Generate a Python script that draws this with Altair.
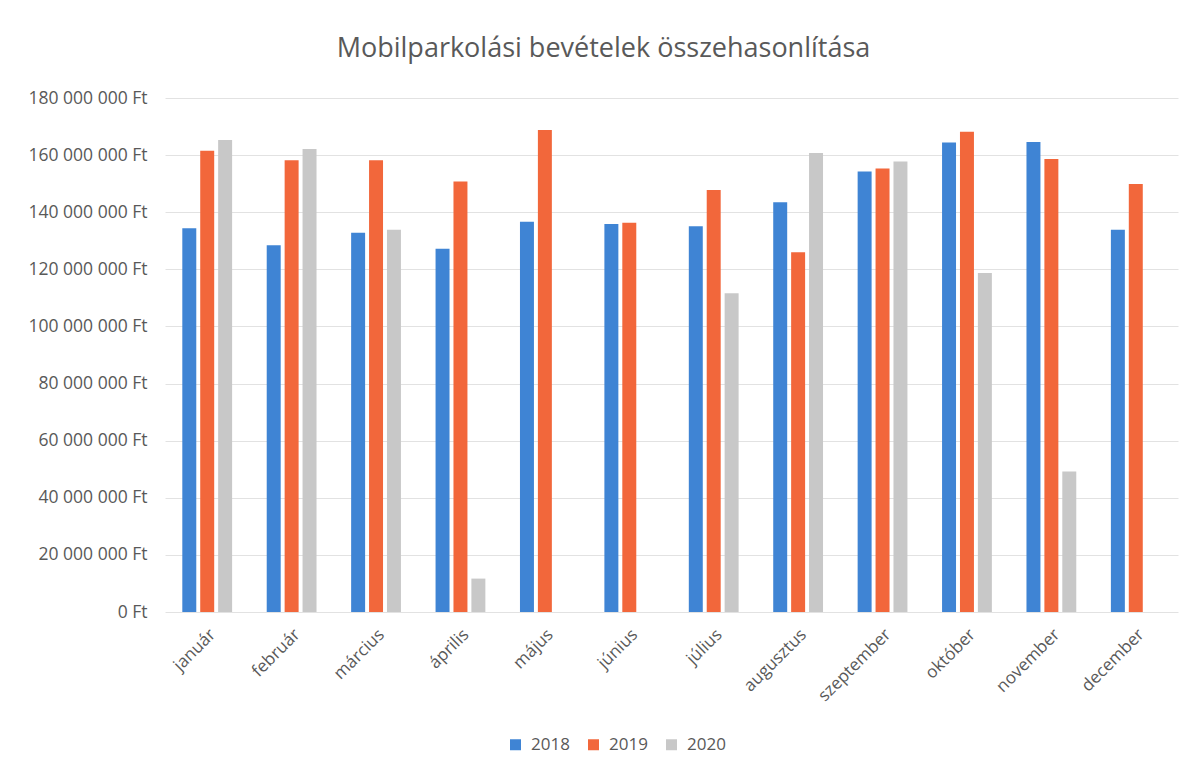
import altair as alt
import pandas as pd

months = ["január", "február", "március", "április", "május", "június",
          "július", "augusztus", "szeptember", "október", "november", "december"]
years = ["2018", "2019", "2020"]
v2018 = [134_400_000, 128_400_000, 132_800_000, 127_200_000, 136_700_000, 135_900_000,
         135_100_000, 143_500_000, 154_300_000, 164_400_000, 164_600_000, 133_900_000]
v2019 = [161_500_000, 158_200_000, 158_200_000, 150_800_000, 168_800_000, 136_300_000,
         147_800_000, 126_000_000, 155_300_000, 168_200_000, 158_600_000, 149_900_000]
v2020 = [165_300_000, 162_100_000, 133_900_000, 11_700_000, None, None,
         111_600_000, 160_700_000, 157_800_000, 118_700_000, 49_200_000, None]
colors = ["#3F84D4", "#F2673B", "#C8C8C8"]
y_ticks = [0, 20_000_000, 40_000_000, 60_000_000, 80_000_000, 100_000_000,
           120_000_000, 140_000_000, 160_000_000, 180_000_000]

rows = []
for yr, vals in zip(years, [v2018, v2019, v2020]):
    for m, v in zip(months, vals):
        if v is not None:
            rows.append({"hónap": m, "év": yr, "bevétel": v})
df = pd.DataFrame(rows)

FONT = "Open Sans"
TXT = "#595959"

chart = alt.Chart(df).mark_bar().encode(
    x=alt.X("hónap:N", sort=months,
            scale=alt.Scale(paddingInner=0.41, paddingOuter=0.205),
            axis=alt.Axis(title=None, labelAngle=-45, labelFontSize=17, labelFont=FONT,
                          labelColor=TXT, ticks=False, domain=False, labelPadding=14)),
    xOffset=alt.XOffset("év:N", sort=years,
                        scale=alt.Scale(paddingInner=0.22, paddingOuter=0)),
    y=alt.Y("bevétel:Q",
            scale=alt.Scale(domain=[0, 180_000_000], nice=False),
            axis=alt.Axis(title=None, values=y_ticks,
                          labelExpr="replace(replace(format(datum.value, ',d'), ',', ' '), ',', ' ') + ' Ft'",
                          labelFontSize=17.5, labelFont=FONT, labelColor=TXT,
                          ticks=False, domain=False, labelPadding=18,
                          gridColor="#E2E2E2", gridWidth=1)),
    color=alt.Color("év:N", sort=years,
                    scale=alt.Scale(domain=years, range=colors),
                    legend=alt.Legend(title=None, orient="none", direction="horizontal",
                                      legendX=342, legendY=638,
                                      symbolType="square", symbolSize=121,
                                      symbolStrokeWidth=0,
                                      labelFontSize=17, labelFont=FONT, labelColor=TXT,
                                      labelOffset=7, columnPadding=15, padding=0)),
).properties(
    width=1013,
    height=514,
    title=alt.TitleParams("Mobilparkolási bevételek összehasonlítása",
                          fontSize=27, font=FONT, fontWeight="normal", color=TXT,
                          anchor="middle", dx=-68, offset=26),
    autosize=alt.AutoSizeParams(type="none"),
    padding={"left": 157, "top": 90, "right": 8, "bottom": 151},
).configure(background="white").configure_view(stroke=None, strokeWidth=0)

chart.save("out.html", embed_options={"renderer": "svg", "actions": False})
